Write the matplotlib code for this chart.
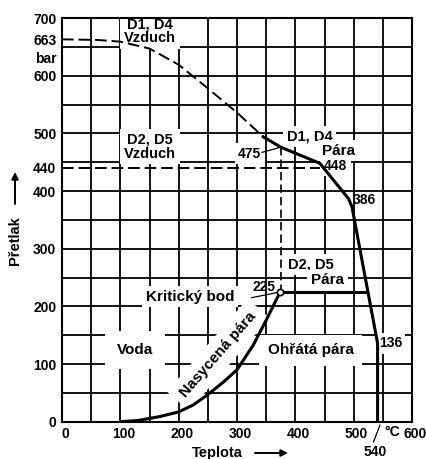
import matplotlib
matplotlib.use("Agg")
import matplotlib.pyplot as plt
import matplotlib.transforms as mtransforms
import numpy as np

plt.rcParams['font.family'] = ['Liberation Sans', 'DejaVu Sans']
plt.rcParams['font.weight'] = 'bold'

# ---- data (temperature °C, overpressure bar) ----
sat_t = [100, 130, 168, 200, 225, 250, 277, 300, 328, 350, 374]
sat_p = [0, 2, 9, 17, 29, 47, 69, 90, 133, 176, 225]

air_t = [0, 60, 100, 150, 200, 250, 300, 345]
air_p = [663, 662, 659, 647, 619, 578, 536, 494]

steam_t = [345, 375, 442, 491, 497, 541, 541]
steam_p = [494, 476, 448, 387, 373, 136, 0]

crit_t, crit_p = 374, 225
d25_end_t = 523          # end of 225 bar line (on steam boundary)
air440_end_t = 442
vert_t, vert_top = 375, 476

xticks = [0, 100, 200, 300, 400, 500, 600]
xlabels = ['0', '100', '200', '300', '400', '500', '600']
yticks = [0, 100, 200, 300, 400, 440, 500, 600, 632, 663, 700]
ylabels = ['0', '100', '200', '300', '400', '440', '500', '600', 'bar', '663', '700']

fig = plt.figure(figsize=(4.26, 4.59), dpi=100)
ax = fig.add_axes([62/426, (459-421.7)/459, 350/426, 403.7/459])
ax.set_xlim(0, 600)
ax.set_ylim(0, 700)

# grid
for gx in np.arange(50, 600, 50):
    ax.axvline(gx, color='black', lw=1.3, zorder=1)
for gy in np.arange(50, 700, 50):
    ax.axhline(gy, color='black', lw=1.3, zorder=1)
for s in ax.spines.values():
    s.set_linewidth(1.5)

ax.set_xticks(xticks)
ax.set_xticklabels(xlabels)
ax.set_yticks(yticks)
ax.set_yticklabels(ylabels)
ax.tick_params(length=0, labelsize=10, pad=4)
offset = mtransforms.ScaledTranslation(3/100, 0, fig.dpi_scale_trans)
for lab in ax.get_xticklabels():
    lab.set_transform(lab.get_transform() + offset)
for lab in ax.get_xticklabels() + ax.get_yticklabels():
    lab.set_fontweight('bold')

box = dict(facecolor='white', edgecolor='none', boxstyle='square,pad=0.25')
tkw = dict(fontsize=11, fontweight='bold', ha='center', va='center', zorder=2)
dkw = dict(fontsize=10.5, fontweight='bold', ha='center', va='center', zorder=2)
nkw = dict(fontsize=10, fontweight='bold', va='center', zorder=2)

# curves
ax.plot(sat_t, sat_p, color='black', lw=2.2, zorder=3, solid_capstyle='round')
ax.plot(air_t, air_p, color='black', lw=1.4, ls=(0, (6, 2.5)), zorder=3)
ax.plot(steam_t, steam_p, color='black', lw=2.2, zorder=3, solid_joinstyle='round')
ax.plot([crit_t, d25_end_t], [crit_p, crit_p], color='black', lw=2.2, zorder=3)
ax.plot([0, air440_end_t], [440, 440], color='black', lw=1.4, ls=(0, (6, 2.5)), zorder=3)
ax.plot([vert_t, vert_t], [vert_top, crit_p], color='black', lw=1.2, ls=(0, (5, 2.5)), zorder=3)
ax.plot([crit_t], [crit_p], marker='o', ms=4.5, mfc='white', mec='black', mew=1.2, zorder=4)

# labels
ax.text(151, 677, 'D1, D4\nVzduch', linespacing=1.0, bbox=box, **dkw)
ax.text(151, 477, 'D2, D5\nVzduch', linespacing=1.0, bbox=box, **dkw)
ax.text(425, 494, 'D1, D4', bbox=box, **dkw)
ax.text(474, 470, 'Pára', bbox=box, **tkw)
ax.text(342, 465, '475', ha='right', bbox=box, **nkw)
ax.plot([343, vert_t], [467, vert_top], color='black', lw=0.9, zorder=3)
ax.text(449, 444, '448', ha='left', bbox=box, **nkw)
ax.text(499, 385, '386', ha='left', **nkw)
ax.text(543, 136, '136', ha='left', bbox=box, **nkw)
ax.text(347, 233, '225', ha='center', **nkw)
ax.text(427, 272, 'D2, D5', bbox=box, **dkw)
ax.text(455, 245, 'Pára', bbox=box, **tkw)
ax.text(220, 217, 'Kritický bod', bbox=box, **tkw)
ax.plot([325, crit_t], [215, crit_p], color='black', lw=0.9, zorder=3)
ax.text(125, 124, 'Voda', bbox=dict(facecolor='white', edgecolor='none', boxstyle='square,pad=0.8'), **tkw)
ax.text(426, 124, 'Ohřátá pára', bbox=dict(facecolor='white', edgecolor='none', boxstyle='square,pad=0.55'), **tkw)
ax.text(268, 116, 'Nasycená pára', rotation=49, rotation_mode='anchor',
        bbox=dict(facecolor='white', edgecolor='none', boxstyle='square,pad=0.5'), **tkw)

# 540 label below axis
ax.plot([534, 545], [-35, -6], color='black', lw=0.9, clip_on=False)
ax.text(537, -52, '540', ha='center', clip_on=False, **nkw)
ax.text(566, -18.5, '°C', ha='center', clip_on=False, **nkw)

# axis titles with arrows
fig.text(217.5/426, 2/459, 'Teplota', fontsize=10.5, fontweight='bold', ha='center', va='baseline')
ax.annotate('', xy=(288, 6), xytext=(255, 6), xycoords='figure pixels', textcoords='figure pixels',
            arrowprops=dict(arrowstyle='-|>', lw=1.4, color='black', mutation_scale=10, shrinkA=0, shrinkB=0))
fig.text(15/426, 218/459, 'Přetlak', fontsize=10.5, fontweight='bold', ha='center', va='center', rotation=90)
ax.annotate('', xy=(15, 287), xytext=(15, 255), xycoords='figure pixels', textcoords='figure pixels',
            arrowprops=dict(arrowstyle='-|>', lw=1.4, color='black', mutation_scale=10, shrinkA=0, shrinkB=0))

fig.savefig('out.png', dpi=100)
